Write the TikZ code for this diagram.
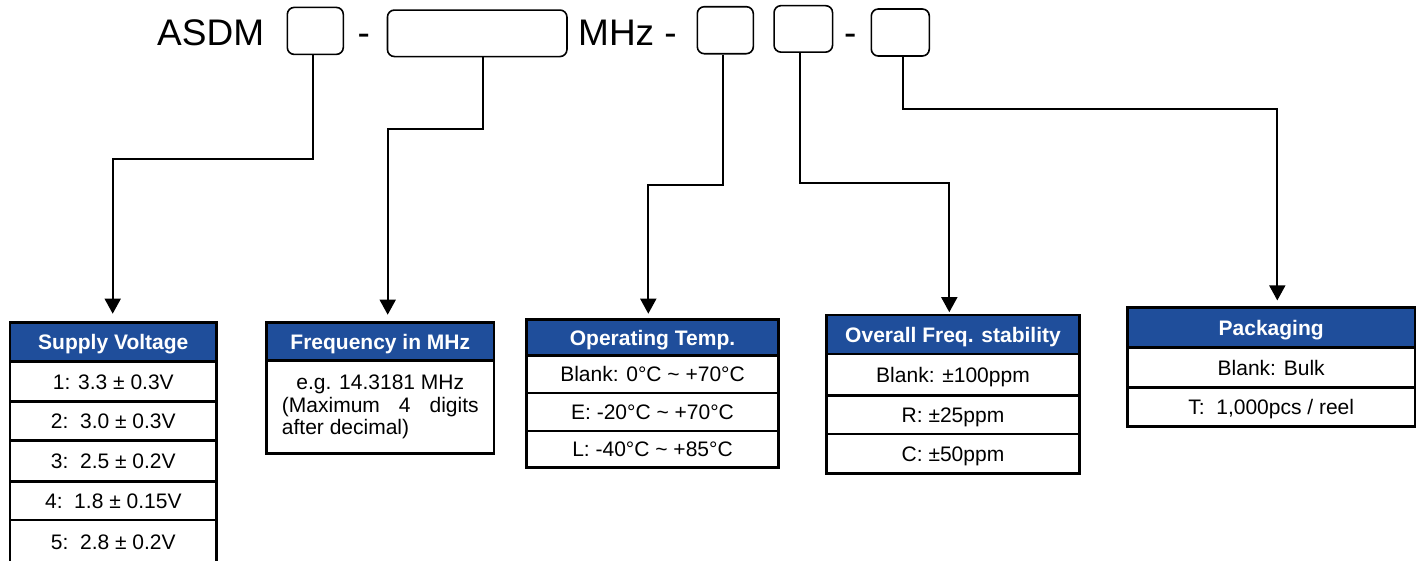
\documentclass[tikz,border=0pt]{standalone}
\usepackage{fontspec}
\setmainfont{Liberation Sans}
\usetikzlibrary{arrows.meta}
\definecolor{hblue}{RGB}{31,78,155}
\begin{document}
\begin{tikzpicture}[x=1pt,y=-1pt,
  toptext/.style={inner sep=0pt, anchor=base west, font=\fontsize{37}{40}\selectfont},
  pbox/.style={draw, line width=1.6pt, rounded corners=7pt, inner sep=0pt},
  hcell/.style={draw, line width=2.6pt, fill=hblue, text=white, inner sep=0pt,
     font=\fontsize{21}{24}\selectfont\bfseries, text height=15pt, text depth=0pt},
  cell/.style={draw, line width=2.6pt, fill=white, inner sep=0pt,
     font=\fontsize{21}{24}\selectfont, text height=15pt, text depth=0pt},
  conn/.style={line width=1.7pt, -{Triangle[width=16pt,length=15pt]}}
]
\useasboundingbox (0,0) rectangle (1421,560);

% ---- top code line ----
\node[toptext] (asdm) at (157,45) {ASDM};
\node[pbox, minimum width=56pt, minimum height=47pt] (b1) at (315.3,30.9) {};
\node[toptext] (d1) at (357.4,45) {-};
\node[pbox, minimum width=179.5pt, minimum height=46.5pt] (b2) at (477.2,33.3) {};
\node[toptext] (mhz) at (578,45) {MHz -};
\node[pbox, minimum width=56pt, minimum height=47pt] (b3) at (725.3,30.2) {};
\node[pbox, minimum width=58.5pt, minimum height=46.5pt] (b4) at (803.3,28.9) {};
\node[toptext] (d2) at (844,45) {-};
\node[pbox, minimum width=58pt, minimum height=47pt] (b5) at (900.3,32.5) {};

% ---- Supply Voltage ----
\node[hcell, minimum width=206.7pt, minimum height=39.4pt] (svh) at (113.3,342) {Supply Voltage};
\node[cell, minimum width=206.7pt, minimum height=40pt] (sv1) at (113.3,381.7) {1: 3.3 ± 0.3V};
\node[cell, minimum width=206.7pt, minimum height=39pt] (sv2) at (113.3,421.2) {2:\ \ 3.0 ± 0.3V};
\node[cell, minimum width=206.7pt, minimum height=41pt] (sv3) at (113.3,461.2) {3:\ \ 2.5 ± 0.2V};
\node[cell, minimum width=206.7pt, minimum height=38.3pt] (sv4) at (113.3,500.85) {4:\ \ 1.8 ± 0.15V};
\node[cell, minimum width=206.7pt, minimum height=44pt] (sv5) at (113.3,542) {5:\ \ 2.8 ± 0.2V};

% ---- Frequency in MHz ----
\node[hcell, minimum width=227.3pt, minimum height=38.4pt] (fh) at (380.3,341.5) {Frequency in MHz};
\node[draw, line width=2.6pt, fill=white, inner sep=0pt, minimum width=227.3pt, minimum height=92.6pt] (fb) at (380.3,407) {};
\node[inner sep=0pt, align=left, font=\fontsize{21}{22.5}\selectfont] (ft) at (380.3,407)
  {\makebox[196.7pt][c]{e.g. 14.3181 MHz}\\\makebox[196.7pt][s]{(Maximum 4 digits}\\after decimal)};

% ---- Operating Temp. ----
\node[hcell, minimum width=251.6pt, minimum height=36.4pt] (oh) at (652.5,337.5) {Operating Temp.};
\node[cell, minimum width=251.6pt, minimum height=37.3pt] (o1) at (652.5,374.35) {Blank: 0°C \textasciitilde{} +70°C};
\node[cell, minimum width=251.6pt, minimum height=38pt] (o2) at (652.5,412) {E: -20°C \textasciitilde{} +70°C};
\node[cell, minimum width=251.6pt, minimum height=36.7pt] (o3) at (652.5,449.35) {L: -40°C \textasciitilde{} +85°C};

% ---- Overall Freq. stability ----
\node[hcell, minimum width=252.6pt, minimum height=39pt] (vh) at (953,334.5) {Overall Freq. stability};
\node[cell, minimum width=252.6pt, minimum height=41.3pt] (v1) at (953,374.65) {Blank: ±100ppm};
\node[cell, minimum width=252.6pt, minimum height=38.7pt] (v2) at (953,414.65) {R: ±25ppm};
\node[cell, minimum width=252.6pt, minimum height=39.7pt] (v3) at (953,453.85) {C: ±50ppm};

% ---- Packaging ----
\node[hcell, minimum width=287.7pt, minimum height=39.6pt] (ph) at (1271.2,327.5) {Packaging};
\node[cell, minimum width=287.7pt, minimum height=40.4pt] (p1) at (1271.2,367.5) {Blank: Bulk};
\node[cell, minimum width=287.7pt, minimum height=39pt] (p2) at (1271.2,407.2) {T:\ \ 1,000pcs / reel};

% ---- connector elbows ----
\coordinate (e1) at (312.7,159);   \coordinate (f1) at (112.7,159);
\coordinate (e2) at (483.3,129);   \coordinate (f2) at (387.7,129);
\coordinate (e3) at (722.7,185);   \coordinate (f3) at (648.3,185);
\coordinate (e4) at (800,182.7);   \coordinate (f4) at (949.3,182.7);
\coordinate (e5) at (902.7,109.3); \coordinate (f5) at (1277.3,109.3);

\draw[conn, shorten >=7.3pt] (b1.south -| e1) -- (e1) -- (f1) -- (f1 |- svh.north);
\draw[conn, shorten >=6.3pt] (b2.south -| e2) -- (e2) -- (f2) -- (f2 |- fh.north);
\draw[conn, shorten >=4.3pt] (b3.south -| e3) -- (e3) -- (f3) -- (f3 |- oh.north);
\draw[conn, shorten >=1.5pt] (b4.south -| e4) -- (e4) -- (f4) -- (f4 |- vh.north);
\draw[conn, shorten >=6pt]   (b5.south -| e5) -- (e5) -- (f5) -- (f5 |- ph.north);
\end{tikzpicture}
\end{document}
